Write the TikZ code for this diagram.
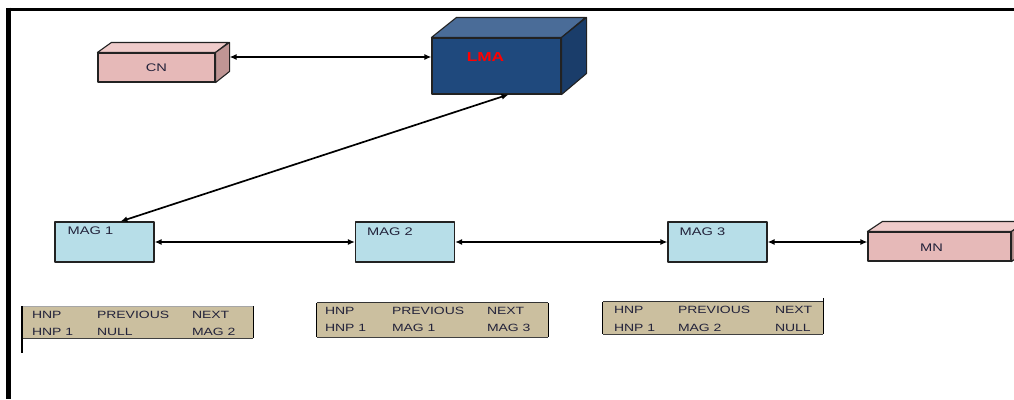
\documentclass[tikz,border=0pt]{standalone}
\usepackage{fontspec}
\setmainfont{Liberation Sans}[FakeStretch=1.33]
\usetikzlibrary{arrows.meta,calc}
\definecolor{pinkF}{HTML}{E6B9B8}
\definecolor{pinkT}{HTML}{EFCBCA}
\definecolor{pinkS}{HTML}{BF9594}
\definecolor{navyF}{HTML}{1F497D}
\definecolor{navyT}{HTML}{4A6C98}
\definecolor{navyS}{HTML}{1A3D6A}
\definecolor{magF}{HTML}{B7DEE8}
\definecolor{tabF}{HTML}{CBBF9F}
\definecolor{txt}{HTML}{22223A}
\definecolor{edge}{HTML}{222222}
\tikzset{
  face/.style={draw=edge, line width=1.1pt, line join=round},
  front/.style={face, rectangle, inner sep=0pt},
  magbox/.style={front, fill=magF, minimum width=99pt, minimum height=40pt},
  maglabel/.style={anchor=north west, inner sep=0pt, text=txt, font=\fontsize{11}{13}\selectfont},
  boxtext/.style={text=txt, font=\fontsize{11}{13}\selectfont},
  link/.style={line width=1.7pt, {Latex[length=7pt,width=6pt]}-{Latex[length=7pt,width=6pt]}},
  tabbox/.style={rectangle, fill=tabF, inner sep=0pt},
  cell/.style={anchor=west, inner sep=0pt, text=txt, font=\fontsize{10.5}{12}\selectfont},
}
\begin{document}
\begin{tikzpicture}[x=1pt,y=-1pt]
\useasboundingbox (0,0) rectangle (1014,399);
\clip (0,0) rectangle (1014,399);
\fill[white] (0,0) rectangle (1014,399);

% outer frame: top and left edges only
\draw[line width=3.5pt] (6,9.3) -- (1014,9.3);
\draw[line width=5pt] (8.5,7.5) -- (8.5,399);

% CN block
\node[front, fill=pinkF, minimum width=117pt, minimum height=29pt] (cn) at (156.5,67.5) {};
\node[boxtext] (cnT) at (cn.center) {CN};
\draw[face, fill=pinkT] (cn.north west) -- ++(14,-10) -- ++(117,0) -- (cn.north east) -- cycle;
\draw[face, fill=pinkS] (cn.north east) -- ++(14,-10) -- ++(0,29) -- (cn.south east) -- cycle;
\coordinate (cnR) at ($(cn.east)+(14,-10.5)$);

% LMA block
\node[front, fill=navyF, minimum width=129pt, minimum height=56pt] (lma) at (496.5,66) {};
\node[text=red, font=\fontsize{13}{15}\bfseries\selectfont] (lmaT) at ($(lma.center)+(-11,-9)$) {LMA};
\draw[face, fill=navyT] (lma.north west) -- ++(25,-20) -- ++(129,0) -- (lma.north east) -- cycle;
\draw[face, fill=navyS] (lma.north east) -- ++(25,-20) -- ++(0,56) -- (lma.south east) -- cycle;
\coordinate (lmaL) at ($(lma.west)+(0,-9)$);

% MN block
\node[front, fill=pinkF, minimum width=143pt, minimum height=29pt] (mn) at (939.5,246.5) {};
\node[boxtext] (mnT) at ($(mn.center)+(-8,1.5)$) {MN};
\draw[face, fill=pinkT] (mn.north west) -- ++(15,-10) -- ++(143,0) -- (mn.north east) -- cycle;
\draw[face, fill=pinkS] (mn.north east) -- ++(15,-10) -- ++(0,29) -- (mn.south east) -- cycle;

% MAG boxes
\node[magbox] (mag1) at (104.5,242) {};
\node[maglabel] (mag1T) at ($(mag1.north west)+(13,5.5)$) {MAG 1};
\node[magbox] (mag2) at (405,242) {};
\node[maglabel] (mag2T) at ($(mag2.north west)+(12,6.5)$) {MAG 2};
\node[magbox] (mag3) at (717.5,242) {};
\node[maglabel] (mag3T) at ($(mag3.north west)+(12,6.5)$) {MAG 3};

% connectors
\draw[link] (cnR) -- (lmaL);
\draw[link] ($(mag1.north)+(16,0)$) -- ($(lma.south)+(12,0)$);
\draw[link] (mag1.east) -- (mag2.west);
\draw[link] (mag2.east) -- (mag3.west);
\draw[link] (mag3.east) -- (mag3.east -| mn.west);

% binding tables
\node[tabbox, minimum width=231pt, minimum height=31.5pt] (tab1) at (137.5,322.25) {};
\draw[gray!70, line width=0.6pt] (tab1.north west) -- (tab1.north east);
\draw[black!75, line width=0.9pt] (tab1.south west) -- (tab1.south east);
\draw[black, line width=1.4pt] (tab1.north west) -- ++(0,47);
\draw[black, line width=1.1pt] (tab1.north east) -- (tab1.south east);
\node[cell] (t1a) at ($(tab1.north west)+(10,8.5)$) {HNP};
\node[cell] (t1b) at ($(tab1.north west)+(75,8.5)$) {PREVIOUS};
\node[cell] (t1c) at ($(tab1.north west)+(170,8.5)$) {NEXT};
\node[cell] (t1d) at ($(tab1.north west)+(10,25.5)$) {HNP 1};
\node[cell] (t1e) at ($(tab1.north west)+(75,25.5)$) {NULL};
\node[cell] (t1f) at ($(tab1.north west)+(170,25.5)$) {MAG 2};

\node[tabbox, minimum width=231pt, minimum height=34pt] (tab2) at (432.5,320) {};
\draw[black!80, line width=0.8pt] (tab2.north west) -- (tab2.north east);
\draw[black!75, line width=0.9pt] (tab2.south west) -- (tab2.south east);
\draw[black, line width=1.1pt] (tab2.north west) -- (tab2.south west);
\draw[black, line width=1.1pt] (tab2.north east) -- (tab2.south east);
\node[cell] (t2a) at ($(tab2.north west)+(8,8)$) {HNP};
\node[cell] (t2b) at ($(tab2.north west)+(75,8)$) {PREVIOUS};
\node[cell] (t2c) at ($(tab2.north west)+(170,8)$) {NEXT};
\node[cell] (t2d) at ($(tab2.north west)+(8,25)$) {HNP 1};
\node[cell] (t2e) at ($(tab2.north west)+(75,25)$) {MAG 1};
\node[cell] (t2f) at ($(tab2.north west)+(170,25)$) {MAG 3};

\node[tabbox, minimum width=220pt, minimum height=32pt] (tab3) at (713,318) {};
\draw[black!80, line width=0.8pt] (tab3.north west) -- (tab3.north east);
\draw[black!75, line width=0.9pt] (tab3.south west) -- (tab3.south east);
\draw[black, line width=1.1pt] (tab3.north west) -- (tab3.south west);
\draw[black, line width=1.1pt] ($(tab3.north east)+(0,-4)$) -- (tab3.south east);
\node[cell] (t3a) at ($(tab3.north west)+(11,8)$) {HNP};
\node[cell] (t3b) at ($(tab3.north west)+(75,8)$) {PREVIOUS};
\node[cell] (t3c) at ($(tab3.north west)+(172,8)$) {NEXT};
\node[cell] (t3d) at ($(tab3.north west)+(11,26)$) {HNP 1};
\node[cell] (t3e) at ($(tab3.north west)+(75,26)$) {MAG 2};
\node[cell] (t3f) at ($(tab3.north west)+(172,26)$) {NULL};
\end{tikzpicture}
\end{document}
